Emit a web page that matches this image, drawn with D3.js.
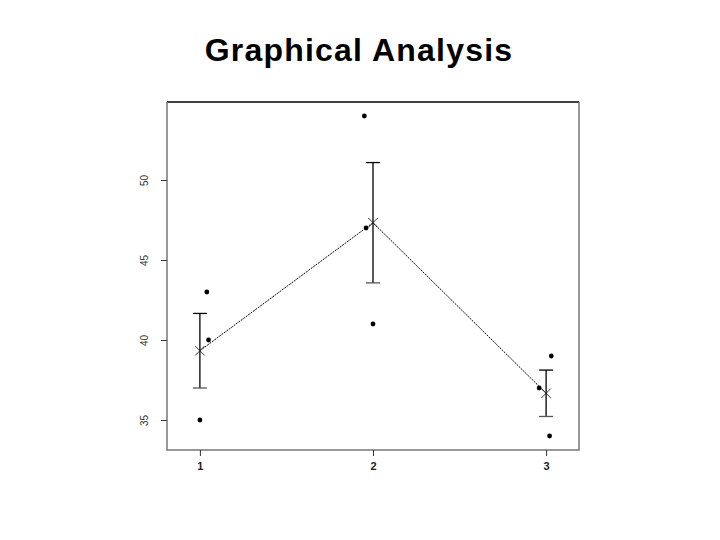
<!DOCTYPE html>
<html>
<head>
<meta charset="utf-8">
<script src="https://cdn.jsdelivr.net/npm/d3@7"></script>
<style>
  body { margin: 0; background: #fff; }
  text { font-family: "Liberation Sans", Arial, sans-serif; }
</style>
</head>
<body>
<div id="chart"></div>
<script>
// DATA
const groups = [1, 2, 3];
const obsGroup = [1, 1, 1, 2, 2, 2, 3, 3, 3];
const obsX = [1.04, 1.05, 1.0, 1.95, 1.96, 2.0, 3.03, 2.96, 3.02];
const obsY = [43, 40, 35, 54, 47, 41, 39, 37, 34];
const means = [39.33, 47.33, 36.67];
const stdErr = [2.33, 3.76, 1.45];
const yTicks = [35, 40, 45, 50];
const xTicks = [1, 2, 3];

// SIZES
const width = 720, height = 540;
const box = { left: 167, right: 579, top: 102, bottom: 450 };

const svg = d3.select("#chart")
    .append("svg")
    .attr("width", width)
    .attr("height", height);

// SCALES
const x = d3.scaleLinear()
    .domain([0.81, 3.19])
    .range([box.left, box.right]);

const y = d3.scaleLinear()
    .domain([33.125, 54.875])
    .range([box.bottom, box.top]);

// TITLE
svg.append("text")
    .attr("x", 359)
    .attr("y", 61)
    .attr("text-anchor", "middle")
    .attr("font-size", 32)
    .attr("font-weight", "bold")
    .attr("letter-spacing", "1.2px")
    .text("Graphical Analysis");

// BOX
svg.append("line")
    .attr("x1", box.left).attr("x2", box.right)
    .attr("y1", box.top).attr("y2", box.top)
    .attr("stroke", "#000").attr("stroke-width", 1.5);
svg.append("path")
    .attr("d", `M${box.left},${box.top}V${box.bottom}H${box.right}V${box.top}`)
    .attr("fill", "none")
    .attr("stroke", "#777")
    .attr("stroke-width", 1.5);

// AXES
const yAxis = svg.append("g")
    .attr("transform", `translate(${box.left},0)`)
    .call(d3.axisLeft(y).tickValues(yTicks).tickSize(6).tickPadding(4));
yAxis.select(".domain").remove();
yAxis.selectAll(".tick line").attr("stroke", "#333");
yAxis.selectAll(".tick text")
    .attr("x", null).attr("dy", null)
    .attr("transform", "translate(-19,0) rotate(-90)")
    .attr("text-anchor", "middle")
    .attr("font-size", 10)
    .attr("fill", "#333");

const xAxis = svg.append("g")
    .attr("transform", `translate(0,${box.bottom})`)
    .call(d3.axisBottom(x).tickValues(xTicks).tickSize(6).tickPadding(6).tickFormat(d3.format("d")));
xAxis.select(".domain").remove();
xAxis.selectAll(".tick line").attr("stroke", "#333");
xAxis.selectAll(".tick text")
    .attr("font-size", 11)
    .attr("font-weight", "bold")
    .attr("fill", "#222");

// MEAN LINE
const meanData = groups.map((g, i) => ({ g, m: means[i], se: stdErr[i] }));
svg.append("path")
    .datum(meanData)
    .attr("fill", "none")
    .attr("stroke", "#000")
    .attr("stroke-width", 1)
    .attr("stroke-dasharray", "2,1")
    .attr("d", d3.line().x(d => x(d.g)).y(d => y(d.m)));

// ERROR BARS
const bars = svg.selectAll(".err")
    .data(meanData)
    .enter()
    .append("g")
    .attr("class", "err")
    .attr("stroke", "#000")
    .attr("stroke-width", 1.3);
bars.append("line")
    .attr("x1", d => x(d.g)).attr("x2", d => x(d.g))
    .attr("y1", d => y(d.m + d.se)).attr("y2", d => y(d.m - d.se));
bars.append("line")
    .attr("x1", d => x(d.g) - 7).attr("x2", d => x(d.g) + 7)
    .attr("y1", d => y(d.m + d.se)).attr("y2", d => y(d.m + d.se));
bars.append("line")
    .attr("x1", d => x(d.g) - 7).attr("x2", d => x(d.g) + 7)
    .attr("y1", d => y(d.m - d.se)).attr("y2", d => y(d.m - d.se))
    .attr("stroke", "#555");

// MEAN MARKS (x)
const cross = d3.symbol().type(d3.symbolX).size(60);
svg.selectAll(".mean")
    .data(meanData)
    .enter()
    .append("path")
    .attr("class", "mean")
    .attr("transform", d => `translate(${x(d.g)},${y(d.m)})`)
    .attr("d", cross)
    .attr("fill", "none")
    .attr("stroke", "#222")
    .attr("stroke-width", 0.9);

// OBSERVATIONS
svg.selectAll(".obs")
    .data(obsY.map((v, i) => ({ g: obsGroup[i], x: obsX[i], v })))
    .enter()
    .append("circle")
    .attr("class", "obs")
    .attr("cx", d => x(d.x))
    .attr("cy", d => y(d.v))
    .attr("r", 2.4)
    .attr("fill", "#000");
</script>
</body>
</html>
